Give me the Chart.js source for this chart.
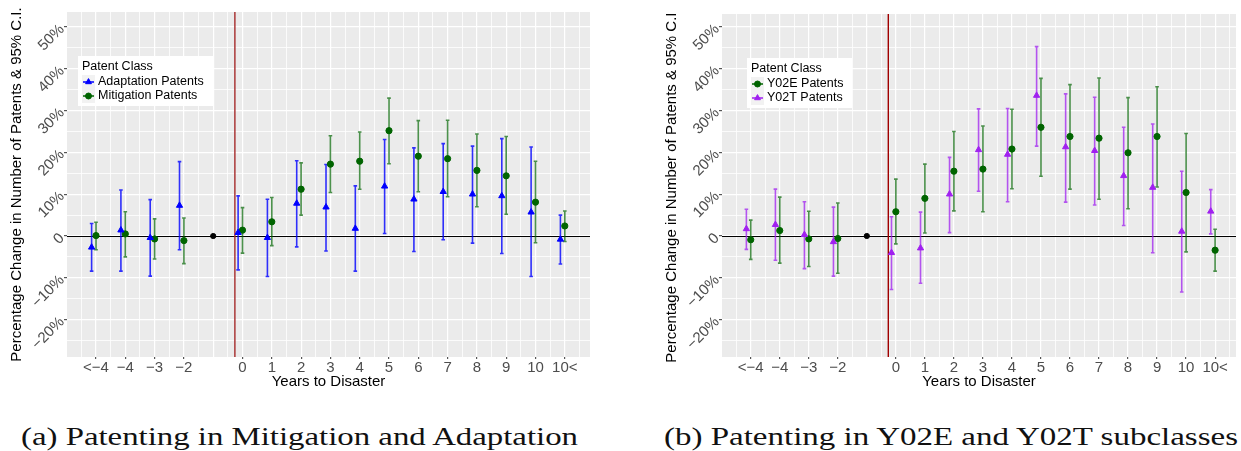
<!DOCTYPE html>
<html>
<head>
<meta charset="utf-8">
<script src="https://cdn.jsdelivr.net/npm/chart.js@4.4.0/dist/chart.umd.min.js"></script>
<style>
  body { margin: 0; background: #fff; }
  #page { position: relative; width: 1241px; height: 451px; overflow: hidden; }
  canvas { position: absolute; }
  #c1 { left: 0; top: 0; }
  #wrap2 { position: absolute; left: 655px; top: 14px; width: 586px; height: 381px; overflow: hidden; }
  #c2 { left: 0; top: -14px; }
  .cap { position: absolute; top: 421px; font: 26px 'Liberation Serif', serif; line-height: 32px;
         white-space: nowrap; transform-origin: 0 0; color: #111; }
</style>
</head>
<body>
<div id="page">
  <canvas id="c1" width="600" height="395"></canvas>
  <div id="wrap2"><canvas id="c2" width="586" height="395"></canvas></div>
  <div class="cap" data-w="557" style="left:21px">(a) Patenting in Mitigation and Adaptation</div>
  <div class="cap" data-w="574" style="left:664px">(b) Patenting in Y02E and Y02T subclasses</div>
</div>
<script>
// years relative to the disaster, '' is the omitted reference year (-1)
const categories = ['<−4', '−4', '−3', '−2', '', '0', '1', '2', '3', '4', '5', '6', '7', '8', '9', '10', '10<'];
const refEst = [null, null, null, null, 0, null, null, null, null, null, null, null, null, null, null, null, null];

// panel (a)
const adaptEst = [-2.7, 1.4, -0.4, 7.3, null, 0.8, -0.4, 7.8, 6.9, 1.8, 11.9, 8.8, 10.6, 10.0, 9.6, 5.7, -0.8];
const adaptLo  = [-8.4, -8.4, -9.6, -3.3, null, -8.1, -9.7, -2.6, -3.6, -8.4, 0.6, -3.7, -0.9, -1.7, -4.2, -9.7, -6.7];
const adaptHi  = [3.0, 11.0, 8.7, 17.8, null, 9.6, 8.8, 18.0, 17.1, 12.0, 23.1, 21.1, 22.1, 21.5, 23.3, 21.3, 5.0];
const mitEst = [0.1, 0.5, -0.7, -1.1, null, 1.4, 3.4, 11.2, 17.2, 17.9, 25.2, 19.1, 18.5, 15.7, 14.4, 8.1, 2.4];
const mitLo  = [-3.3, -5.0, -5.5, -6.6, null, -4.1, -2.3, 5.0, 10.4, 11.2, 17.3, 10.6, 9.4, 7.0, 5.2, -1.6, -1.3];
const mitHi  = [3.3, 5.8, 4.1, 4.3, null, 6.8, 9.2, 17.5, 24.0, 24.9, 33.0, 27.6, 27.7, 24.4, 23.8, 17.9, 6.0];

// panel (b)
const y02eEst = [-0.9, 1.3, -0.7, -0.6, null, 5.8, 9.0, 15.5, 16.0, 20.8, 26.0, 23.8, 23.4, 19.9, 23.8, 10.4, -3.4];
const y02eLo  = [-5.6, -6.5, -7.3, -8.9, null, -1.9, 0.7, 6.0, 5.8, 11.3, 14.3, 11.2, 8.8, 6.5, 11.7, -3.8, -8.4];
const y02eHi  = [3.8, 9.3, 5.9, 7.9, null, 13.6, 17.2, 25.0, 26.3, 30.3, 37.7, 36.2, 37.8, 33.1, 35.7, 24.5, 1.6];
const y02tEst = [1.7, 2.7, 0.3, -1.4, null, -4.0, -2.9, 10.0, 20.6, 19.5, 33.6, 21.3, 20.4, 14.4, 11.6, 1.1, 5.9];
const y02tLo  = [-3.2, -5.8, -7.8, -9.6, null, -12.8, -11.3, 0.8, 10.7, 8.2, 21.5, 8.1, 7.4, 2.5, -4.0, -13.4, 0.5];
const y02tHi  = [6.4, 11.2, 8.2, 6.9, null, 4.6, 5.7, 18.8, 30.4, 30.5, 45.3, 34.0, 33.2, 26.0, 26.8, 15.5, 11.1];

const yTicks = [-25, -20, -15, -10, -5, 0, 5, 10, 15, 20, 25, 30, 35, 40, 45, 50];
const disasterAt = 4.74;

Chart.defaults.font.family = "'Liberation Sans', Arial, sans-serif";

const BLUE = '#0000ff', GREEN = '#006400', PURPLE = '#a020f0';

function points(est, lo, hi, shift) {
    return categories.map((c, i) => ({ x: i + shift, y: est[i], lo: lo ? lo[i] : null, hi: hi ? hi[i] : null }))
        .filter(p => p.y !== null);
}

function pointSet(label, est, lo, hi, shift, color, style, barColor) {
    return {
        label: label,
        data: points(est, lo, hi, shift),
        pointStyle: style,
        pointRadius: style === 'triangle' ? 3.6 : 3.1,
        backgroundColor: color,
        borderColor: color,
        borderWidth: 1,
        barColor: barColor
    };
}

function panelPlugin(vlineColor, legendItems) {
    return {
        id: 'panel',
        beforeDraw(chart) {
            const { ctx, chartArea: a } = chart;
            ctx.save();
            ctx.fillStyle = '#ebebeb';
            ctx.fillRect(a.left, a.top, a.right - a.left, a.bottom - a.top);
            ctx.restore();
        },
        beforeDatasetsDraw(chart) {
            const { ctx, chartArea: a, scales: { x, y } } = chart;
            ctx.save();
            ctx.beginPath();
            ctx.rect(a.left, a.top, a.right - a.left, a.bottom - a.top);
            ctx.clip();
            // zero line
            const y0 = Math.round(y.getPixelForValue(0)) + 0.5;
            ctx.strokeStyle = '#000';
            ctx.lineWidth = 1;
            ctx.beginPath(); ctx.moveTo(a.left, y0); ctx.lineTo(a.right, y0); ctx.stroke();
            // disaster year
            const xv = x.getPixelForValue(disasterAt);
            ctx.strokeStyle = vlineColor;
            ctx.lineWidth = 1.4;
            ctx.beginPath(); ctx.moveTo(xv, a.top); ctx.lineTo(xv, a.bottom); ctx.stroke();
            // confidence intervals
            chart.data.datasets.forEach(ds => {
                if (!ds.barColor) return;
                ctx.strokeStyle = ds.barColor;
                ctx.lineWidth = 1.6;
                ds.data.forEach(p => {
                    const px = x.getPixelForValue(p.x);
                    const lo = y.getPixelForValue(p.lo), hi = y.getPixelForValue(p.hi);
                    ctx.beginPath();
                    ctx.moveTo(px, lo); ctx.lineTo(px, hi);
                    ctx.moveTo(px - 1.8, lo); ctx.lineTo(px + 1.8, lo);
                    ctx.moveTo(px - 1.8, hi); ctx.lineTo(px + 1.8, hi);
                    ctx.stroke();
                });
            });
            ctx.restore();
        },
        afterDraw(chart) {
            const { ctx, chartArea: a } = chart;
            ctx.save();
            ctx.font = "12.5px 'Liberation Sans', Arial, sans-serif";
            const textW = Math.max(...legendItems.map(it => ctx.measureText(it.label).width));
            const w = Math.round(20 + textW + 9), h = 50;
            const left = Math.round(a.left + 0.15 * (a.right - a.left) - w / 2);
            const top = Math.round(a.top + 0.2 * (a.bottom - a.top) - 25);
            ctx.fillStyle = '#fff';
            ctx.fillRect(left, top, w, h);
            ctx.textBaseline = 'middle';
            ctx.textAlign = 'left';
            ctx.fillStyle = '#000';
            ctx.fillText('Patent Class', left + 4, top + 11);
            legendItems.forEach((it, k) => {
                const yy = top + 26 + k * 14;
                ctx.fillStyle = '#f2f2f2';
                ctx.fillRect(left + 4, yy - 7, 13, 14);
                ctx.strokeStyle = it.color;
                ctx.fillStyle = it.color;
                ctx.lineWidth = 1.5;
                ctx.beginPath(); ctx.moveTo(left + 5, yy); ctx.lineTo(left + 16, yy); ctx.stroke();
                ctx.lineWidth = 1;
                Chart.helpers.drawPoint(ctx, { pointStyle: it.style, radius: it.style === 'triangle' ? 3.4 : 3, borderWidth: 1 }, left + 10.5, yy);
                ctx.fillStyle = '#000';
                ctx.fillText(it.label, left + 20, yy);
            });
            ctx.restore();
        }
    };
}

function makeChart(id, datasets, yMax, xMax, padTop, padRight, vlineColor, legendItems) {
    return new Chart(document.getElementById(id), {
        type: 'scatter',
        data: { datasets: datasets },
        options: {
            responsive: false,
            animation: false,
            devicePixelRatio: 1,
            layout: { padding: { top: padTop, right: padRight, left: 0, bottom: 0 } },
            plugins: { legend: { display: false }, tooltip: { enabled: false } },
            scales: {
                x: {
                    type: 'linear',
                    min: -0.99,
                    max: xMax,
                    afterBuildTicks: s => {
                        const t = [];
                        for (let v = -0.5; v <= 16.5; v += 0.5) t.push({ value: v });
                        s.ticks = t;
                    },
                    afterFit: s => { s.height = 38; },
                    border: { display: false },
                    grid: {
                        color: '#ffffff',
                        lineWidth: c => Number.isInteger(c.tick.value) ? 1.2 : 0.8,
                        tickLength: 2,
                        tickColor: c => Number.isInteger(c.tick.value) && categories[c.tick.value] !== '' ? '#555555' : 'rgba(0,0,0,0)'
                    },
                    ticks: {
                        autoSkip: false, maxRotation: 0, minRotation: 0, padding: 0,
                        color: '#4d4d4d', font: { size: 15 },
                        callback: v => Number.isInteger(v) ? categories[v] : ''
                    },
                    title: { display: true, text: 'Years to Disaster', color: '#000', font: { size: 15 }, padding: { top: 4, bottom: 4 } }
                },
                y: {
                    min: -28.95,
                    max: yMax,
                    afterBuildTicks: s => { s.ticks = yTicks.map(v => ({ value: v })); },
                    afterFit: s => { s.width = 67; },
                    border: { display: false },
                    grid: {
                        color: '#ffffff',
                        lineWidth: c => c.tick.value % 10 === 0 ? 1.2 : 0.8,
                        tickLength: 3,
                        tickColor: c => c.tick.value % 10 === 0 ? '#555555' : 'rgba(0,0,0,0)'
                    },
                    ticks: {
                        autoSkip: false, minRotation: 45, maxRotation: 45, padding: 2,
                        color: '#4d4d4d', font: { size: 15 },
                        callback: v => v % 10 !== 0 ? '' : (v === 0 ? '0' : (v < 0 ? '−' : '') + Math.abs(v) + '%')
                    },
                    title: { display: true, text: 'Percentage Change in Number of Patents & 95% C.I.', color: '#000', font: { size: 15 }, padding: { top: 8, bottom: 0 } }
                }
            }
        },
        plugins: [panelPlugin(vlineColor, legendItems)]
    });
}

const refSet = { label: 'ref', data: points(refEst, null, null, 0), pointStyle: 'circle', pointRadius: 2.6, backgroundColor: '#000', borderColor: '#000' };

makeChart('c1', [
    refSet,
    pointSet('Adaptation Patents', adaptEst, adaptLo, adaptHi, -0.15, BLUE, 'triangle', 'rgba(0,0,255,0.8)'),
    pointSet('Mitigation Patents', mitEst, mitLo, mitHi, 0, GREEN, 'circle', 'rgba(0,100,0,0.7)')
], 53.6, 16.86, 12, 10, '#a52a2a', [
    { label: 'Adaptation Patents', color: BLUE, style: 'triangle' },
    { label: 'Mitigation Patents', color: GREEN, style: 'circle' }
]);

makeChart('c2', [
    { ...refSet, data: points(refEst, null, null, 0) },
    pointSet('Y02T Patents', y02tEst, y02tLo, y02tHi, -0.15, PURPLE, 'triangle', 'rgba(160,32,240,0.75)'),
    pointSet('Y02E Patents', y02eEst, y02eLo, y02eHi, 0, GREEN, 'circle', 'rgba(0,100,0,0.7)')
], 53.1, 16.72, 14, 0, '#a00000', [
    { label: 'Y02E Patents', color: GREEN, style: 'circle' },
    { label: 'Y02T Patents', color: PURPLE, style: 'triangle' }
]);

document.querySelectorAll('.cap').forEach(el => {
    const w = el.getBoundingClientRect().width;
    el.style.transform = 'scaleX(' + (+el.dataset.w / w) + ')';
});
</script>
</body>
</html>
